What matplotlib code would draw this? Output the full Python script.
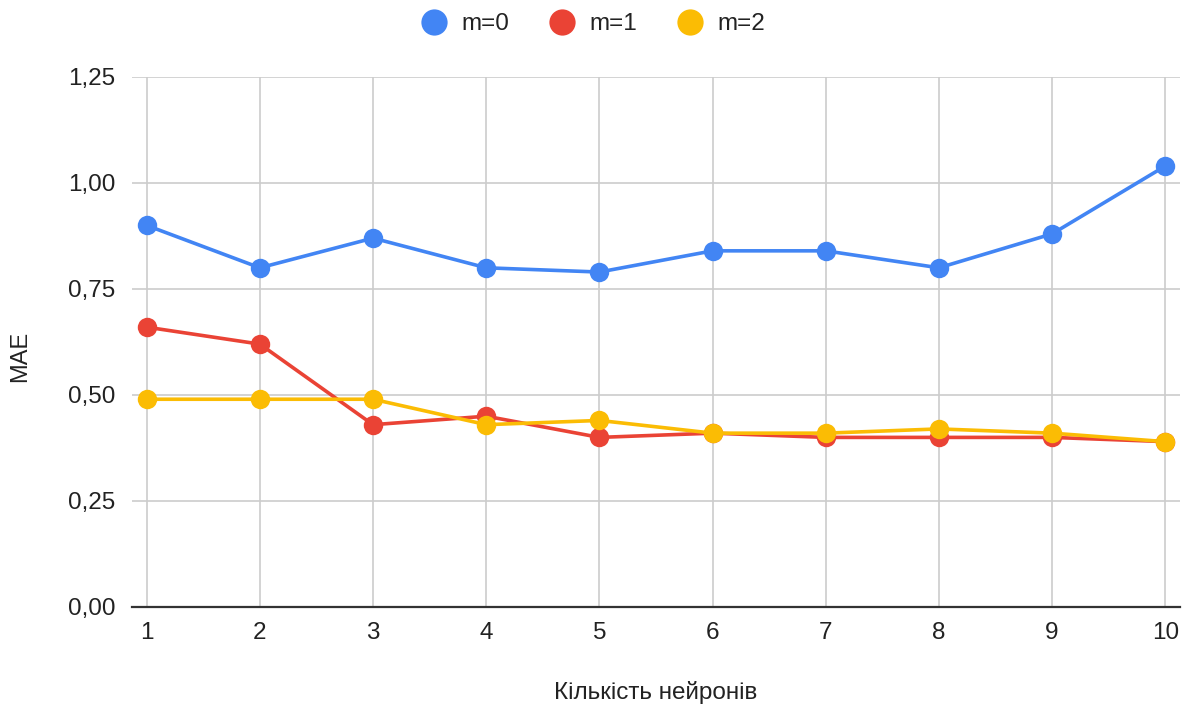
import matplotlib
matplotlib.use("Agg")
import matplotlib.pyplot as plt
from matplotlib.ticker import FuncFormatter

plt.rcParams['font.family'] = ['Liberation Sans', 'DejaVu Sans']

neurons = [1, 2, 3, 4, 5, 6, 7, 8, 9, 10]
mae_m0 = [0.90, 0.80, 0.87, 0.80, 0.79, 0.84, 0.84, 0.80, 0.88, 1.04]
mae_m1 = [0.66, 0.62, 0.43, 0.45, 0.40, 0.41, 0.40, 0.40, 0.40, 0.39]
mae_m2 = [0.49, 0.49, 0.49, 0.43, 0.44, 0.41, 0.41, 0.42, 0.41, 0.39]
series_labels = ["m=0", "m=1", "m=2"]
colors = ["#4285F4", "#EA4335", "#FBBC04"]
y_ticks = [0.0, 0.25, 0.5, 0.75, 1.0, 1.25]

W, H = 1182, 707
fig = plt.figure(figsize=(W / 100, H / 100), dpi=100)
ax = fig.add_axes([132 / W, 1 - 607 / H, (1180 - 132) / W, (607 - 77) / H])

for vals, lab, col in zip([mae_m0, mae_m1, mae_m2], series_labels, colors):
    ax.plot(neurons, vals, color=col, lw=2.6, marker='o', ms=14,
            markeredgewidth=0, label=lab, zorder=3)

ax.set_xlim(0.87, 10.13)
ax.set_ylim(0, 1.25)
ax.set_xticks(neurons)
ax.set_yticks(y_ticks)
ax.yaxis.set_major_formatter(FuncFormatter(lambda v, p: f"{v:.2f}".replace('.', ',')))
ax.grid(True, color="#cccccc", lw=1.2, zorder=0)
for s in ['top', 'right', 'left']:
    ax.spines[s].set_visible(False)
ax.spines['bottom'].set_color('#333333')
ax.spines['bottom'].set_linewidth(1.6)
ax.spines['bottom'].set_zorder(2)
ax.tick_params(length=0, labelsize=17.5, colors='#222222')
ax.tick_params(axis='y', pad=12)
ax.tick_params(axis='x', pad=11)
ax.set_axisbelow(True)

fig.text(20 / W, 1 - 356 / H, "MAE", rotation=90, ha='center', va='center',
         fontsize=17, color='#222222')
fig.text(656 / W, 1 - 692 / H, "Кількість нейронів", ha='center', va='center',
         fontsize=17.5, color='#222222')

leg = fig.legend(loc='center', bbox_to_anchor=(594 / W, 1 - 24 / H), ncol=3,
                 frameon=False, fontsize=17.5, handlelength=0.9,
                 handletextpad=0.7, columnspacing=1.7, markerscale=1.35)
for h in leg.legend_handles:
    h.set_linestyle('none')
for t in leg.get_texts():
    t.set_color('#222222')

fig.savefig("out.png", dpi=100)
